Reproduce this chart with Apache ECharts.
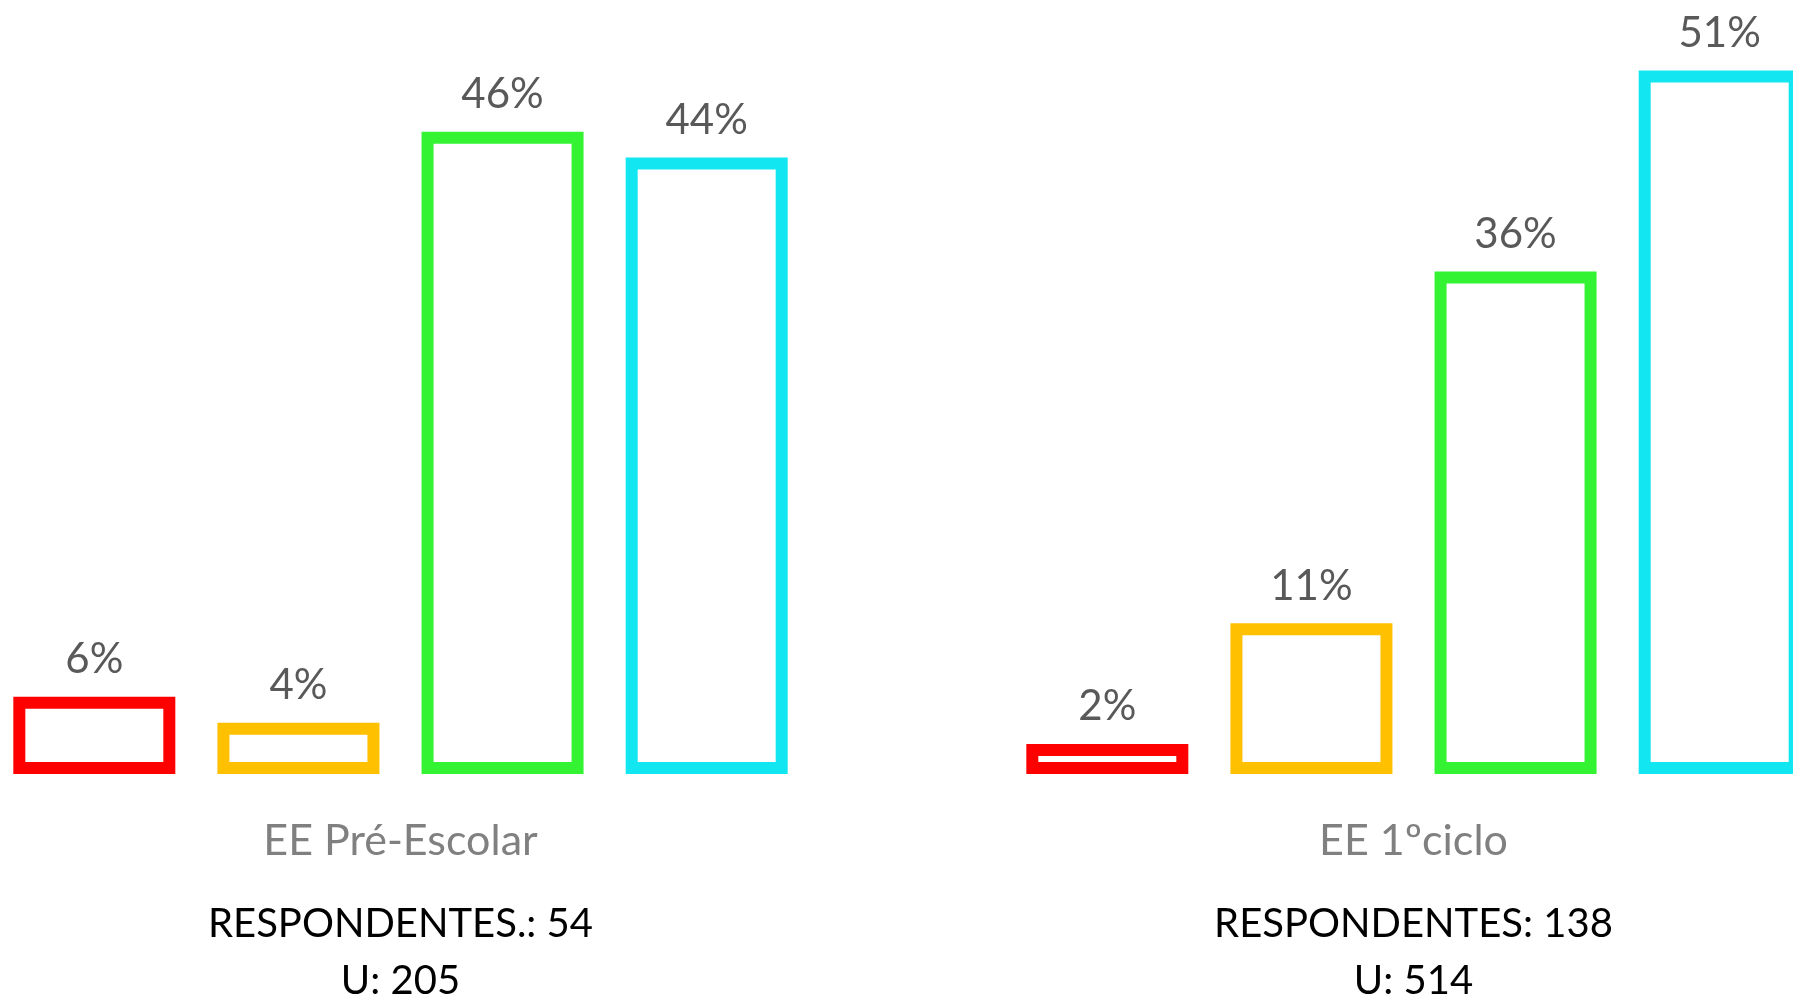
<!DOCTYPE html>
<html>
<head>
<meta charset="utf-8">
<title>EE Pré-Escolar / EE 1ºciclo</title>
<script src="https://cdn.jsdelivr.net/npm/echarts@6/dist/echarts.min.js"></script>
<style>
  html, body { margin: 0; padding: 0; background: #fff; overflow: hidden; width: 1793px; height: 1001px; }
  /* o gráfico original corta a última barra à direita, por isso a área é mais larga que a janela */
  #chart { position: absolute; left: -106px; top: 0; width: 2026px; height: 1001px; }
</style>
</head>
<body>
<div id="chart"></div>
<script>
// categorias (grupos de barras)
const categories = ['EE Pré-Escolar', 'EE 1ºciclo'];
// percentagens por grupo, uma por cor (vermelho, amarelo, verde, ciano)
const preEscolar = [5.56, 3.70, 46.30, 44.44];
const primeiroCiclo = [2.17, 10.87, 36.23, 50.72];
// texto por baixo de cada grupo
const respondentesLabels = ['RESPONDENTES.: 54', 'RESPONDENTES: 138'];
const universoLabels = ['U: 205', 'U: 514'];
const barColors = ['#FF0000', '#FFC000', '#33F333', '#12E6F0'];

const FONT = 'Lato, "Open Sans", sans-serif';

const chart = echarts.init(document.getElementById('chart'));

const series = barColors.map(function (color, i) {
  return {
    type: 'bar',
    data: [preEscolar[i], primeiroCiclo[i]],
    barWidth: 162,        // a borda fica por dentro da barra
    barGap: '26%',
    itemStyle: {
      color: '#ffffff',
      borderColor: color,
      borderWidth: 12
    },
    label: {
      show: true,
      position: 'top',
      distance: 16,
      color: '#595959',
      fontFamily: FONT,
      fontSize: 42,
      formatter: function (p) { return Math.round(p.value) + '%'; }
    },
    silent: true
  };
});

const option = {
  animation: false,
  backgroundColor: '#ffffff',
  grid: { left: 0, right: 0, top: 11, bottom: 227, containLabel: false, outerBoundsMode: 'none' },
  xAxis: [
    {
      type: 'category',
      data: categories,
      position: 'bottom',
      axisLine: { show: false },
      axisTick: { show: false },
      axisLabel: {
        margin: 42,
        color: '#808080',
        fontFamily: FONT,
        fontSize: 43,
        lineHeight: 50
      }
    },
    {
      type: 'category',
      data: categories,
      position: 'bottom',
      axisLine: { show: false },
      axisTick: { show: false },
      axisLabel: {
        margin: 122,
        color: '#000000',
        fontFamily: FONT,
        fontSize: 40,
        lineHeight: 57,
        formatter: function (v, idx) {
          return respondentesLabels[idx] + '\n' + universoLabels[idx];
        }
      }
    }
  ],
  yAxis: {
    type: 'value',
    min: 0,
    max: 55,
    show: false,
    splitLine: { show: false }
  },
  series: series
};

chart.setOption(option);
</script>
</body>
</html>
